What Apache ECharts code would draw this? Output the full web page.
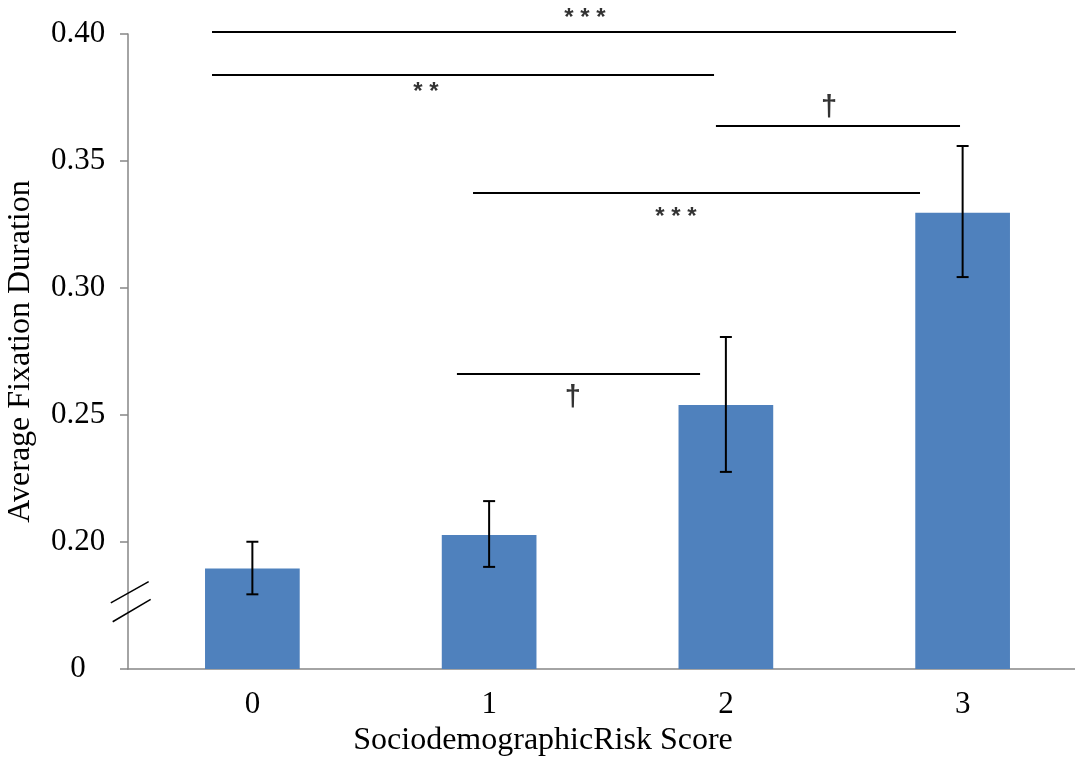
<!DOCTYPE html>
<html>
<head>
<meta charset="utf-8">
<script src="https://cdn.jsdelivr.net/npm/echarts@6/dist/echarts.min.js"></script>
<style>html,body{margin:0;padding:0;background:#fff}#c{width:1075px;height:757px}</style>
</head>
<body>
<div id="c"></div>
<script>
const categories = ['0', '1', '2', '3'];
const means = [0.1896, 0.2028, 0.2539, 0.3296];
const errHigh = [0.2001, 0.2161, 0.2807, 0.3559];
const errLow = [0.1794, 0.1902, 0.2276, 0.3043];
// y axis: broken axis, bottom tick (0.15 on the scale) is shown as "0"
const yTickValues = [0.15, 0.20, 0.25, 0.30, 0.35, 0.40];
const yTickLabels = ['0', '0.20', '0.25', '0.30', '0.35', '0.40'];
// significance brackets (x in category units, y in axis units)
const sigFrom = [-0.1705, -0.1705, 1.958, 0.932, 0.864];
const sigTo = [2.972, 1.950, 2.989, 2.820, 1.891];
const sigY = [0.4008, 0.3839, 0.3638, 0.3374, 0.2661];
const sigText = ['* * *', '* *', '†', '* * *', '†'];
const sigTextX = [1.405, 0.733, 2.436, 1.789, 1.354];
const sigTextY = [0.4063, 0.3772, 0.3709, 0.3280, 0.2567];
// axis break marks [x1, y1, x2, y2]
const breakMarks = [[-0.598, 0.1760, -0.438, 0.1844], [-0.590, 0.1686, -0.4295, 0.1774]];

const chart = echarts.init(document.getElementById('c'), null, {renderer: 'canvas'});
const serif = 'Liberation Serif, Times New Roman, serif';
const sans = 'Liberation Sans, Arial, sans-serif';
const axisGray = '#868686';

const segRender = (w) => (params, api) => {
  const a = api.coord([api.value(0), api.value(1)]);
  const b = api.coord([api.value(2), api.value(3)]);
  return {type: 'line', shape: {x1: a[0], y1: a[1], x2: b[0], y2: b[1]},
          style: {stroke: '#000', lineWidth: w}};
};

chart.setOption({
  animation: false,
  grid: [
    {left: 134, right: -6, top: 34, bottom: 88, containLabel: false, outerBoundsMode: 'none'},
    {left: 128, right: 0, top: 34, bottom: 88, containLabel: false, outerBoundsMode: 'none'}
  ],
  xAxis: [{
    gridIndex: 0, type: 'category', data: categories,
    axisLine: {show: false}, axisTick: {show: false},
    axisLabel: {color: '#000', fontFamily: serif, fontSize: 31, margin: 20},
    name: 'SociodemographicRisk Score', nameLocation: 'middle', nameGap: 52,
    nameTextStyle: {color: '#000', fontFamily: serif, fontSize: 32, padding: [0, 129, 0, 0]}
  }, {
    gridIndex: 0, type: 'value', min: -0.5, max: 3.5, show: false
  }, {
    gridIndex: 1, type: 'value', min: 0, max: 1,
    axisLine: {show: true, onZero: false, lineStyle: {color: axisGray, width: 1.5}},
    axisTick: {show: false}, axisLabel: {show: false}, splitLine: {show: false}
  }],
  yAxis: [{
    gridIndex: 0, type: 'value', min: 0.15, max: 0.40, show: false
  }, {
    gridIndex: 1, type: 'value', min: 0.15, max: 0.40, interval: 0.05,
    splitLine: {show: false},
    axisLine: {show: true, onZero: false, lineStyle: {color: axisGray, width: 1.5}},
    axisTick: {show: true, length: 8, lineStyle: {color: axisGray, width: 1.5}},
    axisLabel: {
      color: '#000', fontFamily: serif, fontSize: 31, margin: 50, align: 'center',
      formatter: v => {
        const i = yTickValues.findIndex(t => Math.abs(t - v) < 1e-6);
        return i >= 0 ? yTickLabels[i] : '';
      }
    },
    name: 'Average Fixation Duration', nameLocation: 'middle', nameGap: 91,
    nameTextStyle: {color: '#000', fontFamily: serif, fontSize: 32}
  }],
  series: [{
    type: 'bar', xAxisIndex: 0, yAxisIndex: 0, data: means, barWidth: '40%',
    itemStyle: {color: '#4F81BD'}, z: 2
  }, {
    type: 'custom', xAxisIndex: 0, yAxisIndex: 0, z: 4,
    data: categories.map((c, i) => [i, errLow[i], errHigh[i]]),
    renderItem: (params, api) => {
      const lo = api.coord([api.value(0), api.value(1)]);
      const hi = api.coord([api.value(0), api.value(2)]);
      const cap = 6;
      const st = {stroke: '#000', lineWidth: 2};
      return {type: 'group', children: [
        {type: 'line', shape: {x1: lo[0], y1: lo[1], x2: hi[0], y2: hi[1]}, style: st},
        {type: 'line', shape: {x1: lo[0] - cap, y1: lo[1], x2: lo[0] + cap, y2: lo[1]}, style: st},
        {type: 'line', shape: {x1: hi[0] - cap, y1: hi[1], x2: hi[0] + cap, y2: hi[1]}, style: st}
      ]};
    }
  }, {
    type: 'custom', xAxisIndex: 1, yAxisIndex: 0, z: 5, clip: false, silent: true,
    data: sigFrom.map((f, i) => [f, sigY[i], sigTo[i], sigY[i]]),
    renderItem: segRender(2)
  }, {
    type: 'custom', xAxisIndex: 1, yAxisIndex: 0, z: 6, clip: false, silent: true,
    data: breakMarks,
    renderItem: segRender(1.5)
  }, {
    type: 'scatter', xAxisIndex: 1, yAxisIndex: 0, clip: false, symbolSize: 0, silent: true, z: 7,
    data: sigText.map((t, i) => [sigTextX[i], sigTextY[i], t]),
    label: {
      show: true, position: 'inside', color: '#000',
      formatter: p => p.value[2] === '†' ? '{d|†}' : '{a|' + p.value[2] + '}',
      rich: {
        a: {fontFamily: sans, fontSize: 24, fontWeight: 'bold', color: '#000'},
        d: {fontFamily: sans, fontSize: 29, fontWeight: 'bold', color: '#000'}
      }
    }
  }]
});
</script>
</body>
</html>
